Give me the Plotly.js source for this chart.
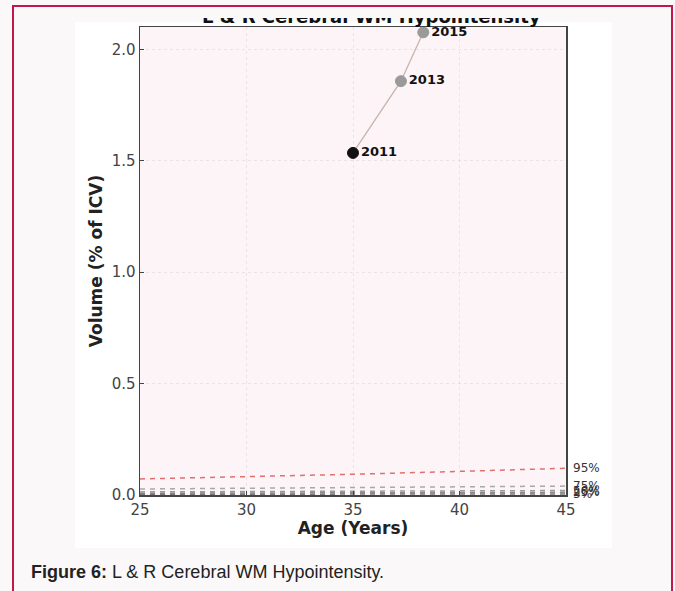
<!DOCTYPE html>
<html><head><meta charset="utf-8">
<script src="https://cdn.plot.ly/plotly-3.0.1.min.js"></script>
<style>
html,body{margin:0;padding:0;background:#fbf8f9;}
#chart{width:675px;height:591px;position:absolute;left:0;top:0;}
#mask{position:absolute;left:75px;top:8px;width:537px;height:10px;background:#fbf8f9;}
</style>
</head><body>
<div id="chart"></div><div id="mask"></div>
<script>
// Subject measurements
const years = ['2011', '2013', '2015'];
const ages = [35.0, 37.25, 38.3];
const volumes = [1.535, 1.857, 2.076];
const pointColors = ['#111111', '#9a9a9a', '#9a9a9a'];

// Normative percentile curves
const pctAges = [25, 30, 35, 40, 45];
const p95 = [0.072, 0.082, 0.093, 0.106, 0.120];
const p75 = [0.027, 0.030, 0.033, 0.036, 0.040];
const p50 = [0.014, 0.015, 0.017, 0.018, 0.020];
const p25 = [0.008, 0.009, 0.010, 0.011, 0.012];
const p5  = [0.003, 0.003, 0.004, 0.004, 0.005];
const pctNames = ['95%', '75%', '50%', '25%', '5%'];
const pctSeries = [p95, p75, p50, p25, p5];
const pctColors = ['#e07070', '#a8a8a8', '#9a9a9a', '#8a8a8a', '#7a7a7a'];

const xTicks = [25, 30, 35, 40, 45];
const yTicks = [0, 0.5, 1.0, 1.5, 2.0];
const yTickText = ['0.0', '0.5', '1.0', '1.5', '2.0'];

const titleText = '<b>L & R Cerebral WM Hypointensity</b>';
const captionText = '<b>Figure 6:</b> L & R Cerebral WM Hypointensity.';

// pixel -> paper helpers (plot area: x 140..566, y 27..495)
const L = 140, R = 109, T = 27, B = 96, W = 675, H = 591;
const pw = W - L - R, ph = H - T - B;
const px = v => (v - L) / pw;
const py = v => (H - B - v) / ph;

const traces = [];
pctSeries.forEach((s, i) => {
  traces.push({
    x: pctAges, y: s, type: 'scatter', mode: 'lines',
    line: {color: pctColors[i], width: 1.5, dash: '5px,5px'},
    hoverinfo: 'skip', showlegend: false
  });
});
traces.push({
  x: ages, y: volumes, type: 'scatter', mode: 'lines',
  line: {color: '#c8b4ae', width: 1.3}, showlegend: false, hoverinfo: 'skip'
});
traces.push({
  x: ages, y: volumes, type: 'scatter', mode: 'markers+text',
  marker: {size: 11, color: pointColors, line: {color: pointColors, width: 1}},
  text: years.map(t => '<b>' + t + '</b>'), textposition: 'middle right',
  textfont: {family: 'DejaVu Sans', size: 13, color: '#111'},
  showlegend: false
});

const annotations = pctNames.map((n, i) => ({
  x: 45, y: pctSeries[i][pctSeries[i].length - 1], xref: 'x', yref: 'y',
  xanchor: 'left', yanchor: 'middle', xshift: 5, showarrow: false,
  text: n, font: {family: 'DejaVu Sans', size: 12, color: '#333'}
}));
annotations.push({
  x: px(371), y: py(29), xref: 'paper', yref: 'paper', xanchor: 'center', yanchor: 'bottom',
  showarrow: false, text: titleText, font: {family: 'DejaVu Sans', size: 18, color: '#111'}
});
annotations.push({
  x: px(29), y: py(572), xref: 'paper', yref: 'paper', xanchor: 'left', yanchor: 'middle',
  showarrow: false, text: captionText, font: {family: 'Liberation Sans, Arial', size: 18, color: '#222'}
});

const shapes = [
  {type: 'rect', xref: 'paper', yref: 'paper', layer: 'below',
   x0: px(13), x1: px(672), y0: py(640), y1: py(6),
   line: {color: '#c4164a', width: 2}, fillcolor: 'rgba(0,0,0,0)'},
  {type: 'rect', xref: 'paper', yref: 'paper', layer: 'below',
   x0: px(75), x1: px(612), y0: py(548), y1: py(22),
   line: {width: 0}, fillcolor: '#ffffff'},
  {type: 'rect', xref: 'paper', yref: 'paper', layer: 'below',
   x0: 0, x1: 1, y0: 0, y1: 1,
   line: {width: 0}, fillcolor: '#fcf4f6'}
];

const axisCommon = {
  showline: true, mirror: true, linecolor: '#444', linewidth: 1.5,
  ticks: 'inside', ticklen: 4, tickcolor: '#444',
  showgrid: true, gridcolor: 'rgba(150,150,150,0.16)', griddash: 'dot', gridwidth: 1,
  zeroline: false, tickfont: {family: 'DejaVu Sans', size: 15, color: '#444'}
};

const layout = {
  width: W, height: H,
  margin: {l: L, r: R, t: T, b: B, pad: 0},
  paper_bgcolor: '#fbf8f9', plot_bgcolor: 'rgba(0,0,0,0)',
  showlegend: false,
  xaxis: Object.assign({}, axisCommon, {
    range: [25, 45], tickvals: xTicks,
    title: {text: '<b>Age (Years)</b>', font: {family: 'DejaVu Sans', size: 17, color: '#222'}, standoff: 4}
  }),
  yaxis: Object.assign({}, axisCommon, {
    range: [0, 2.1], tickvals: yTicks, ticktext: yTickText,
    title: {text: '<b>Volume (% of ICV)</b>', font: {family: 'DejaVu Sans', size: 17, color: '#222'}, standoff: 4}
  }),
  annotations: annotations,
  shapes: shapes
};

Plotly.newPlot('chart', traces, layout, {displayModeBar: false, staticPlot: true});
</script>
</body></html>
